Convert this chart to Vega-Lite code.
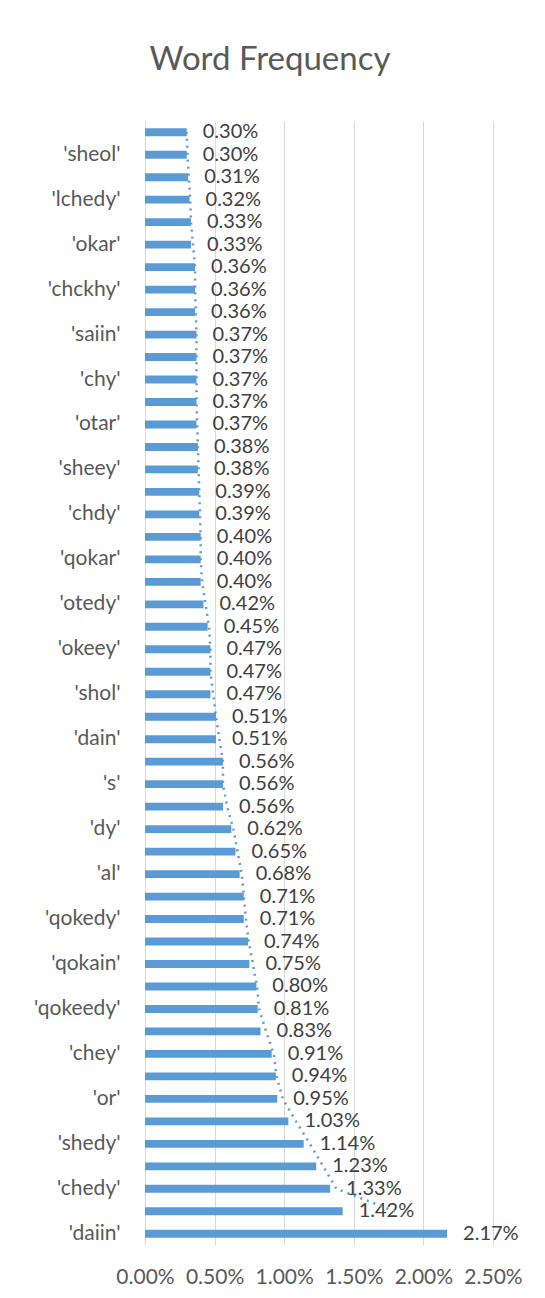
{
  "$schema": "https://vega.github.io/schema/vega-lite/v6.json",
  "width": 348,
  "height": 1124,
  "autosize": {"type": "none"},
  "padding": {"left": 145, "top": 121, "right": 52, "bottom": 53},
  "background": "white",
  "title": {
    "text": "Word Frequency",
    "font": "Lato",
    "fontSize": 33,
    "fontWeight": "normal",
    "color": "#595959",
    "anchor": "middle",
    "frame": "group",
    "dx": -49,
    "baseline": "alphabetic",
    "offset": 18
  },
  "config": {
    "view": {"stroke": null},
    "font": "Lato"
  },
  "data": {
    "values": [
      {"word": "'daiin'", "rank": 1, "freq": 0.0217},
      {"word": "'ol'", "rank": 2, "freq": 0.0142},
      {"word": "'chedy'", "rank": 3, "freq": 0.0133},
      {"word": "'aiin'", "rank": 4, "freq": 0.0123},
      {"word": "'shedy'", "rank": 5, "freq": 0.0114},
      {"word": "'chol'", "rank": 6, "freq": 0.0103},
      {"word": "'or'", "rank": 7, "freq": 0.0095},
      {"word": "'ar'", "rank": 8, "freq": 0.0094},
      {"word": "'chey'", "rank": 9, "freq": 0.0091},
      {"word": "'dar'", "rank": 10, "freq": 0.0083},
      {"word": "'qokeedy'", "rank": 11, "freq": 0.0081},
      {"word": "'qokaiin'", "rank": 12, "freq": 0.0080},
      {"word": "'qokain'", "rank": 13, "freq": 0.0075},
      {"word": "'shey'", "rank": 14, "freq": 0.0074},
      {"word": "'qokedy'", "rank": 15, "freq": 0.0071},
      {"word": "'qokeey'", "rank": 16, "freq": 0.0071},
      {"word": "'al'", "rank": 17, "freq": 0.0068},
      {"word": "'dal'", "rank": 18, "freq": 0.0065},
      {"word": "'dy'", "rank": 19, "freq": 0.0062},
      {"word": "'qol'", "rank": 20, "freq": 0.0056},
      {"word": "'s'", "rank": 21, "freq": 0.0056},
      {"word": "'cthy'", "rank": 22, "freq": 0.0056},
      {"word": "'dain'", "rank": 23, "freq": 0.0051},
      {"word": "'chor'", "rank": 24, "freq": 0.0051},
      {"word": "'shol'", "rank": 25, "freq": 0.0047},
      {"word": "'qoky'", "rank": 26, "freq": 0.0047},
      {"word": "'okeey'", "rank": 27, "freq": 0.0047},
      {"word": "'qotedy'", "rank": 28, "freq": 0.0045},
      {"word": "'otedy'", "rank": 29, "freq": 0.0042},
      {"word": "'sain'", "rank": 30, "freq": 0.0040},
      {"word": "'qokar'", "rank": 31, "freq": 0.0040},
      {"word": "'qokal'", "rank": 32, "freq": 0.0040},
      {"word": "'chdy'", "rank": 33, "freq": 0.0039},
      {"word": "'cheol'", "rank": 34, "freq": 0.0039},
      {"word": "'sheey'", "rank": 35, "freq": 0.0038},
      {"word": "'okain'", "rank": 36, "freq": 0.0038},
      {"word": "'otar'", "rank": 37, "freq": 0.0037},
      {"word": "'qoteedy'", "rank": 38, "freq": 0.0037},
      {"word": "'chy'", "rank": 39, "freq": 0.0037},
      {"word": "'qotey'", "rank": 40, "freq": 0.0037},
      {"word": "'saiin'", "rank": 41, "freq": 0.0037},
      {"word": "'okal'", "rank": 42, "freq": 0.0036},
      {"word": "'chckhy'", "rank": 43, "freq": 0.0036},
      {"word": "'cheey'", "rank": 44, "freq": 0.0036},
      {"word": "'okar'", "rank": 45, "freq": 0.0033},
      {"word": "'shy'", "rank": 46, "freq": 0.0033},
      {"word": "'lchedy'", "rank": 47, "freq": 0.0032},
      {"word": "'okaiin'", "rank": 48, "freq": 0.0031},
      {"word": "'sheol'", "rank": 49, "freq": 0.0030},
      {"word": "'oky'", "rank": 50, "freq": 0.0030}
    ]
  },
  "encoding": {
    "y": {
      "field": "word",
      "type": "nominal",
      "sort": ["'oky'", "'sheol'", "'okaiin'", "'lchedy'", "'shy'", "'okar'", "'cheey'", "'chckhy'", "'okal'", "'saiin'", "'qotey'", "'chy'", "'qoteedy'", "'otar'", "'okain'", "'sheey'", "'cheol'", "'chdy'", "'qokal'", "'qokar'", "'sain'", "'otedy'", "'qotedy'", "'okeey'", "'qoky'", "'shol'", "'chor'", "'dain'", "'cthy'", "'s'", "'qol'", "'dy'", "'dal'", "'al'", "'qokeey'", "'qokedy'", "'shey'", "'qokain'", "'qokaiin'", "'qokeedy'", "'dar'", "'chey'", "'ar'", "'or'", "'chol'", "'shedy'", "'aiin'", "'chedy'", "'ol'", "'daiin'"],
      "scale": {"paddingInner": 0.65, "paddingOuter": 0.325},
      "axis": {
        "title": null,
        "ticks": false,
        "domain": false,
        "labelPadding": 25,
        "labelFont": "Lato",
        "labelFontSize": 21,
        "labelColor": "#595959",
        "labelOverlap": false,
        "values": ["'sheol'", "'lchedy'", "'okar'", "'chckhy'", "'saiin'", "'chy'", "'otar'", "'sheey'", "'chdy'", "'qokar'", "'otedy'", "'okeey'", "'shol'", "'dain'", "'s'", "'dy'", "'al'", "'qokedy'", "'qokain'", "'qokeedy'", "'chey'", "'or'", "'shedy'", "'chedy'", "'daiin'"]
      }
    }
  },
  "layer": [
    {
      "mark": {"type": "bar", "color": "#5b9bd5"},
      "encoding": {
        "x": {
          "field": "freq",
          "type": "quantitative",
          "scale": {"domain": [0, 0.025], "nice": false},
          "axis": {
            "title": null,
            "format": ".2%",
            "values": [0, 0.005, 0.01, 0.015, 0.02, 0.025],
            "ticks": false,
            "domain": false,
            "grid": true,
            "gridColor": "#d9d9d9",
            "gridWidth": 1,
            "labelPadding": 21,
            "labelFont": "Lato",
            "labelFontSize": 21,
            "labelColor": "#595959",
            "labelOverlap": false,
            "labelBound": false,
            "labelFlush": false
          }
        }
      }
    },
    {
      "mark": {"type": "text", "align": "left", "baseline": "middle", "dx": 16, "font": "Lato", "fontSize": 20, "color": "#404040"},
      "encoding": {
        "x": {"field": "freq", "type": "quantitative"},
        "text": {"field": "freq", "type": "quantitative", "format": ".2%"}
      }
    },
    {
      "transform": [
        {"window": [{"op": "mean", "field": "freq", "as": "ma"}, {"op": "count", "as": "n"}], "sort": [{"field": "rank", "order": "ascending"}], "frame": [-1, 0]},
        {"filter": "datum.n == 2"}
      ],
      "mark": {"type": "line", "color": "#5b9bd5", "strokeWidth": 2.5, "strokeDash": [2, 5], "strokeCap": "butt"},
      "encoding": {
        "x": {"field": "ma", "type": "quantitative"},
        "order": {"field": "rank"}
      }
    }
  ]
}
